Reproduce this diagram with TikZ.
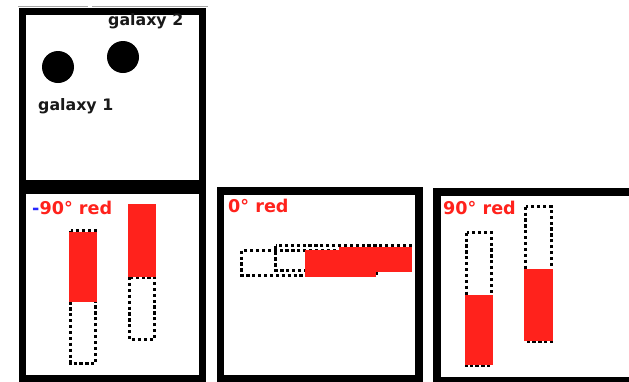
\documentclass[tikz,border=0pt]{standalone}
\usepackage{fontspec}
\setmainfont{DejaVu Sans}
\definecolor{barred}{RGB}{255,34,28}
\definecolor{minusblue}{RGB}{40,40,255}
\begin{document}
\begin{tikzpicture}[x=1pt,y=-1pt,
  frame/.style={draw=black,line width=7.5pt},
  redfill/.style={fill=barred,draw=none},
  dotbox/.style={draw=black,line width=3.2pt,dash pattern=on 3.2pt off 2.7pt},
  glabel/.style={anchor=base west,inner sep=0pt,font=\fontsize{15.8}{18}\selectfont\bfseries,text=black!90},
  plabel/.style={anchor=base west,inner sep=0pt,font=\fontsize{17.6}{20}\selectfont\bfseries,text=barred}]
\clip (0,0) rectangle (629,381);
\fill[white] (0,0) rectangle (629,381);
% thin top line
\draw[gray!70,line width=1pt] (18,6) -- (88,6);
\draw[gray!70,line width=1pt] (92,6) -- (208,6);
% panel 1
\draw[frame] (22.5,11.5) rectangle (202.5,184);
\fill[black] (58,67) circle (16);
\fill[black] (123,57) circle (16);
\node[glabel] (g2) at (108,25) {galaxy 2};
\node[glabel] (g1) at (38,110) {galaxy 1};
% panel 2
\draw[frame] (22.5,190) rectangle (202.5,378.5);
\node[plabel] (l1) at (32,214) {\textcolor{minusblue}{-}90° red};
\draw[dotbox] (70.6,230.6) rectangle (95.4,363.4);
\fill[redfill] (69,232) rectangle (97,302);
\draw[dotbox] (129.6,277) rectangle (154.4,339.4);
\fill[redfill] (128,204) rectangle (156,277);
% panel 3
\draw[frame] (220.5,190.75) rectangle (419,378.5);
\node[plabel] (l2) at (228,212) {0° red};
\draw[dotbox] (241.6,250.6) rectangle (376,275.4);
\draw[dotbox] (275.6,245.6) rectangle (410.4,270.4);
\fill[redfill] (305,250) rectangle (376,277);
\fill[redfill] (339,247) rectangle (412,272);
% panel 4
\draw[frame] (436.75,192) rectangle (700,380.75);
\node[plabel] (l3) at (443,214) {90° red};
\draw[dotbox] (466.6,232.6) rectangle (491.4,365.4);
\fill[redfill] (465,295) rectangle (493,365);
\draw[dotbox] (525.6,206.6) rectangle (551.4,341.4);
\fill[redfill] (524,269) rectangle (553,341);
\end{tikzpicture}
\end{document}
